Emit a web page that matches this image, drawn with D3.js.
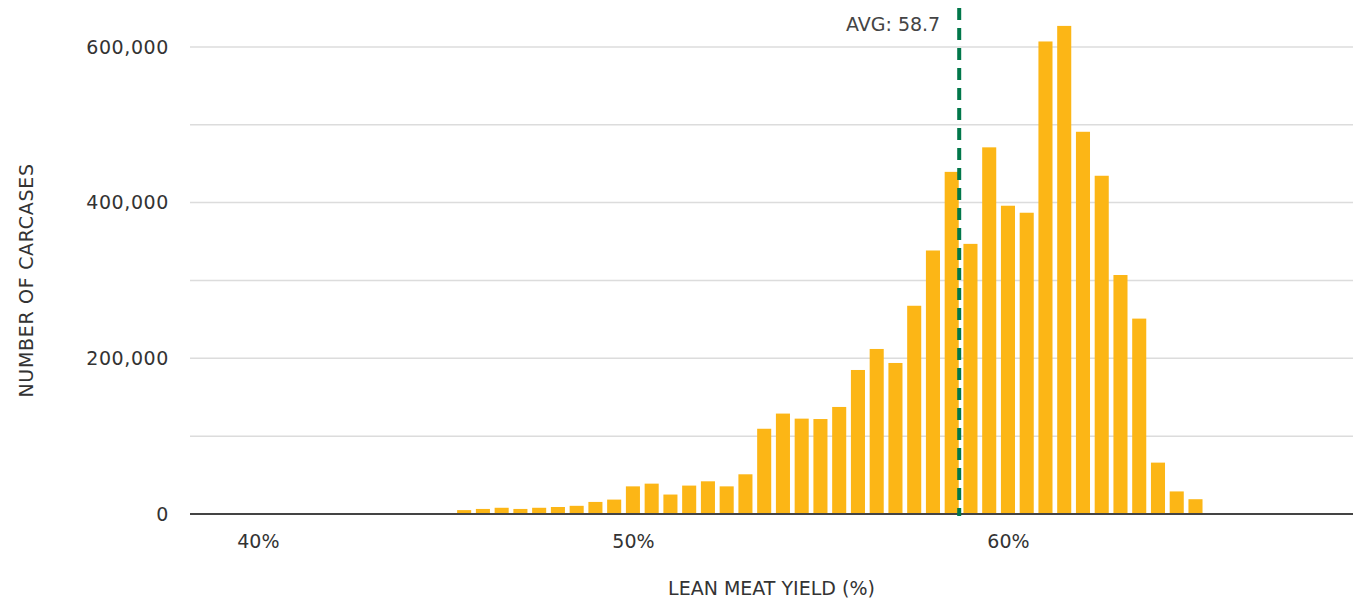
<!DOCTYPE html>
<!-- histogram of lean meat yield with the average marked -->
<html lang="en">
  <head>
    <meta charset="utf-8">
    <title>Lean meat yield</title>
    <script src="https://d3js.org/d3.v7.min.js"></script>
    <style>
      body { margin: 0; background: #fff; }
      text { font-family: "DejaVu Sans", sans-serif; fill: #333; }
    </style>
  </head>
<body>
  <svg id="chart" width="1359" height="600"></svg>

<script>
  // lean meat yield bins (%), one bar every half percent
  var yieldPct = [45.5, 46, 46.5, 47, 47.5, 48, 48.5, 49, 49.5, 50,
                  50.5, 51, 51.5, 52, 52.5, 53, 53.5, 54, 54.5, 55,
                  55.5, 56, 56.5, 57, 57.5, 58, 58.5, 59, 59.5, 60,
                  60.5, 61, 61.5, 62, 62.5, 63, 63.5, 64, 64.5, 65]
  // number of carcases in each bin
  var carcases = [5000, 6500, 8000, 6500, 8000, 9000, 10500, 15500, 18500, 35500,
                  39000, 25000, 36500, 42000, 35500, 51000, 109500, 129000, 122500, 122000,
                  137500, 185000, 212000, 194000, 267500, 338500, 439500, 347000, 471000, 396000,
                  387000, 607000, 627000, 491000, 434500, 307000, 251000, 66000, 29000, 19000]
  var avgYield = 58.7
  var xTicks = [40, 50, 60]
  var yTicks = [0, 200000, 400000, 600000]
  var gridValues = [0, 100000, 200000, 300000, 400000, 500000, 600000]

  var svg = d3.select("#chart")

  var x = d3.scaleLinear().domain([38.19, 69.2]).range([190, 1353])
  var y = d3.scaleLinear().domain([0, 650000]).range([514, 8])
  var barW = x(0.375) - x(0)

  // gridlines
  svg.append("g")
    .selectAll("line")
    .data(gridValues)
    .enter().append("line")
      .attr("x1", x.range()[0])
      .attr("x2", x.range()[1])
      .attr("y1", function(d){ return y(d) })
      .attr("y2", function(d){ return y(d) })
      .style("stroke", "#dcdcdc")
      .style("stroke-width", 1.5)

  // bars
  svg.append("g")
    .selectAll("rect")
    .data(carcases)
    .enter().append("rect")
      .attr("x", function(d, i){ return x(yieldPct[i]) - barW / 2 })
      .attr("y", function(d){ return y(d) })
      .attr("width", barW)
      .attr("height", function(d){ return y(0) - y(d) })
      .style("fill", "#fcb616")

  // baseline
  svg.append("line")
    .attr("x1", x.range()[0])
    .attr("x2", x.range()[1])
    .attr("y1", y(0))
    .attr("y2", y(0))
    .style("stroke", "#444")
    .style("stroke-width", 2)

  // y axis labels
  var yAxis = svg.append("g")
    .attr("transform", "translate(" + x.range()[0] + ",0)")
    .call(d3.axisLeft(y).tickValues(yTicks).tickFormat(d3.format(",")).tickSize(0).tickPadding(21))
  yAxis.select(".domain").remove()
  yAxis.selectAll("text").style("font-size", "19px").style("letter-spacing", "0.6px")
    .style("font-family", null).attr("fill", null)

  // x axis labels
  var xAxis = svg.append("g")
    .attr("transform", "translate(0," + y(0) + ")")
    .call(d3.axisBottom(x).tickValues(xTicks).tickFormat(function(d){ return d + "%" }).tickSize(0).tickPadding(21))
  xAxis.select(".domain").remove()
  xAxis.selectAll("text").style("font-size", "19px").style("font-family", null).attr("fill", null)

  // average line
  svg.append("line")
    .attr("x1", x(avgYield))
    .attr("x2", x(avgYield))
    .attr("y1", y.range()[1])
    .attr("y2", y(0) + 2)
    .style("stroke", "#00774a")
    .style("stroke-width", 4)
    .style("stroke-dasharray", "12,8")

  svg.append("text")
    .attr("x", x(avgYield) - 19)
    .attr("y", 31)
    .attr("text-anchor", "end")
    .attr("font-size", "19px")
    .style("fill", "#444")
    .text("AVG: " + avgYield)

  // axis titles
  svg.append("text")
    .attr("x", (x.range()[0] + x.range()[1]) / 2)
    .attr("y", 595)
    .attr("text-anchor", "middle")
    .attr("font-size", "19px")
    .text("LEAN MEAT YIELD (%)")

  svg.append("text")
    .attr("transform", "translate(33," + y(300000) + ") rotate(-90)")
    .attr("text-anchor", "middle")
    .attr("font-size", "19px")
    .style("letter-spacing", "0.7px")
    .text("NUMBER OF CARCASES")
</script>
</body>
</html>
